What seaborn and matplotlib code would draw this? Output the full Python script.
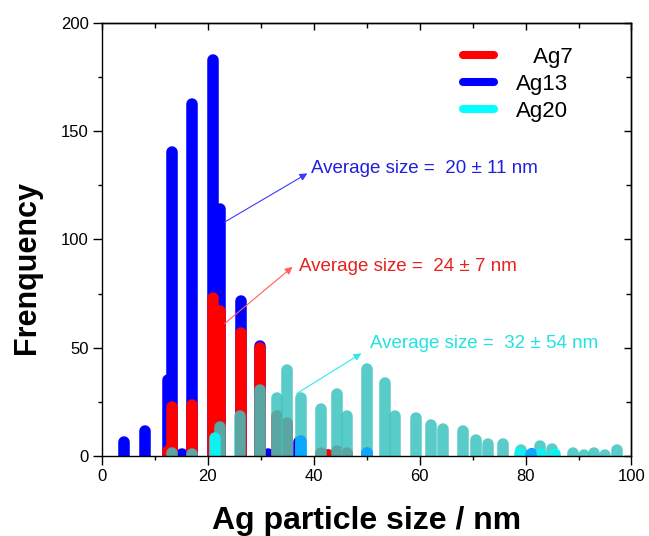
import numpy as np
import pandas as pd
import matplotlib
matplotlib.use("Agg")
import matplotlib.pyplot as plt
from matplotlib.lines import Line2D
from matplotlib.ticker import MultipleLocator
import seaborn as sns

# ---------------- data ----------------
ag13_size = [4.1, 8.2, 12.5, 13.2, 15.1, 17.1, 21.0, 22.3, 26.2, 29.9, 31.4, 37.3, 42.7, 50.0, 81.2]
ag13_freq = [9.2, 14.3, 38.0, 143.0, 3.7, 165.0, 185.5, 116.7, 74.3, 53.5, 3.7, 9.0, 2.0, 4.2, 3.5]

ag7_size = [12.5, 13.2, 17.1, 21.0, 22.3, 26.2, 29.9, 33.0, 35.0, 41.4, 42.7, 44.4, 46.3]
ag7_freq = [5.0, 25.3, 26.3, 75.4, 69.7, 59.5, 52.6, 21.2, 18.1, 4.0, 2.0, 5.0, 4.0]

ag20_size = [13.2, 17.1, 22.3, 26.1, 29.9, 33.0, 35.0, 37.6, 41.4, 44.4, 46.3, 50.0, 53.5,
             55.4, 59.3, 62.2, 64.5, 68.1, 70.6, 72.9, 75.7, 79.2, 82.8, 85.0, 88.9, 91.0,
             93.0, 95.0, 97.2]
ag20_freq = [4.3, 3.7, 16.3, 21.2, 33.2, 29.5, 42.3, 29.4, 24.3, 31.2, 21.2, 43.0, 36.2,
             21.2, 20.2, 17.2, 15.4, 14.1, 10.3, 8.3, 8.3, 5.4, 7.4, 6.1, 4.3, 3.4,
             4.3, 3.4, 5.4]

# second (bright cyan) layer of the Ag20 histogram
ag20b_size = [21.3, 79.0, 83.0, 85.5]
ag20b_freq = [11.2, 4.0, 3.6, 3.6]
# places where Ag20 overlaps Ag13 (light blue)
overlap_size = [37.6, 50.0, 81.1]
overlap_freq = [9.7, 4.2, 3.5]

series_labels = ["   Ag7", "Ag13", "Ag20"]
xticks = [0, 20, 40, 60, 80, 100]
yticks = [0, 50, 100, 150, 200]

annotations = [
    # text, text colour, arrow colour, arrow start (x,y), arrow end (x,y), text pos (x,y)
    ("Average size =  20 \u00b1 11 nm", "#1f1fe0", "#3a3aff", (23.2, 108.0), (38.8, 130.4), (39.4, 132.7)),
    ("Average size =  24 \u00b1 7 nm", "#e82020", "#ff6060", (23.2, 61.2), (36.0, 87.3), (37.3, 87.3)),
    ("Average size =  32 \u00b1 54 nm", "#22e2e2", "#30e8e8", (36.8, 28.9), (49.0, 47.4), (50.6, 52.0)),
]

# ---------------- style ----------------
sns.set_theme(style="white")
plt.rcParams["font.family"] = ["Liberation Sans", "DejaVu Sans"]
plt.rcParams["text.color"] = "black"
plt.rcParams["axes.labelcolor"] = "black"
plt.rcParams["xtick.color"] = "black"
plt.rcParams["ytick.color"] = "black"

fig = plt.figure(figsize=(6.49, 5.36), dpi=100)
ax = fig.add_axes([0.157, 0.149, 0.816, 0.809])
XMAX, YMAX = 100, 200
ax.set_xlim(0, XMAX)
ax.set_ylim(0, YMAX)

BAR_LW = 8.3  # points
ax_h_px = ax.get_position().height * fig.get_figheight() * fig.dpi
cap = (BAR_LW / 2 / 72 * fig.dpi) * YMAX / ax_h_px  # round-cap radius in data units


def bars_frame(sizes, freqs):
    rows = []
    for i, (s, f) in enumerate(zip(sizes, freqs)):
        top = max(f - cap, 0.4)
        rows.append((i, s, 0.0))
        rows.append((i, s, top))
    return pd.DataFrame(rows, columns=["bar", "size", "freq"])


def draw(sizes, freqs, color, alpha=1.0):
    sns.lineplot(data=bars_frame(sizes, freqs), x="size", y="freq", units="bar",
                 estimator=None, sort=False, color=color, alpha=alpha, lw=BAR_LW,
                 solid_capstyle="round", legend=False, ax=ax)


draw(ag13_size, ag13_freq, "#0000ff")
draw(ag7_size, ag7_freq, "#ff0000")
draw(ag20_size, ag20_freq, "#3cc4c0", alpha=0.85)
draw(ag20b_size, ag20b_freq, "#10f0f0")
draw(overlap_size, overlap_freq, "#0aa8ff")

ax.set_xlim(0, XMAX)
ax.set_ylim(0, YMAX)

# ---------------- axes / ticks ----------------
for sp in ax.spines.values():
    sp.set_color("black")
    sp.set_linewidth(1.0)

ax.set_xticks(xticks)
ax.set_yticks(yticks)
ax.xaxis.set_minor_locator(MultipleLocator(10))
ax.yaxis.set_minor_locator(MultipleLocator(25))
ax.tick_params(which="major", direction="out", length=6.5, width=1.0, labelsize=12,
               bottom=True, left=True, top=False, right=False, pad=3)
ax.tick_params(which="minor", direction="out", length=3, width=1.0,
               bottom=True, left=True, top=False, right=False)

secx = ax.secondary_xaxis("top")
secx.xaxis.set_major_locator(MultipleLocator(20))
secx.xaxis.set_minor_locator(MultipleLocator(10))
secx.tick_params(which="major", direction="in", length=5, width=1.0, labeltop=False)
secx.tick_params(which="minor", direction="in", length=3.5, width=1.0)
secx.spines["top"].set_linewidth(1.0)
secx.spines["top"].set_color("black")

secy = ax.secondary_yaxis("right")
secy.yaxis.set_major_locator(MultipleLocator(50))
secy.yaxis.set_minor_locator(MultipleLocator(25))
secy.tick_params(which="major", direction="in", length=5, width=1.0, labelright=False)
secy.tick_params(which="minor", direction="in", length=3.5, width=1.0)
secy.spines["right"].set_linewidth(1.0)
secy.spines["right"].set_color("black")

ax.set_xlabel("Ag particle size / nm", fontsize=23, fontweight="bold")
ax.set_ylabel("Frenquency", fontsize=22, fontweight="bold")
ax.xaxis.set_label_coords(0.5, -0.15)
ax.xaxis.label.set_va("center")
ax.yaxis.set_label_coords(-0.142, 0.434)
ax.yaxis.label.set_va("center")

# ---------------- legend ----------------
colors = ["#ff0000", "#0000ff", "#00ffff"]
handles = [Line2D([], [], color=c, lw=5.8, solid_capstyle="round") for c in colors]
ax.legend(handles, series_labels, loc="upper left", bbox_to_anchor=(0.682, 0.944),
          frameon=False, fontsize=16, handlelength=1.4, handletextpad=1.0,
          labelspacing=0.28, borderpad=0, borderaxespad=0)

# ---------------- annotations ----------------
for text, tcol, acol, start, end, tpos in annotations:
    ax.annotate("", xy=end, xytext=start,
                arrowprops=dict(arrowstyle="-|>", color=acol, lw=0.8,
                                mutation_scale=11, shrinkA=0, shrinkB=0))
    ax.text(tpos[0], tpos[1], text, color=tcol, fontsize=13.5, ha="left", va="center")

fig.savefig("out.png", dpi=100)
